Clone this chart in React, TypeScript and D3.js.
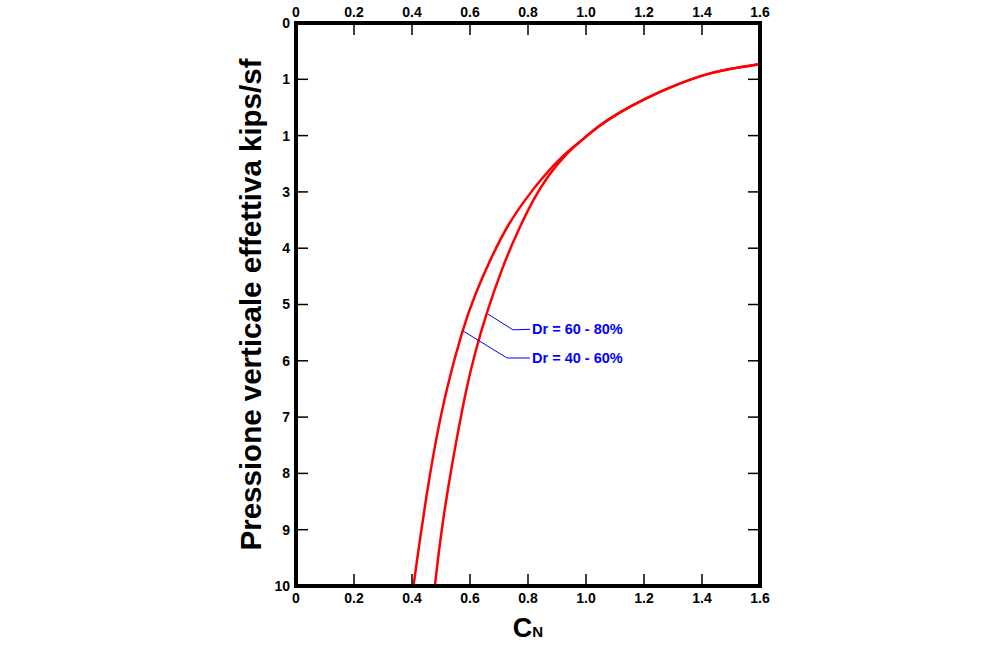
import { useEffect, useRef } from "react";
import * as d3 from "d3";

// C_N vs effective vertical pressure (kips/sf)
const pressureLow = [10, 9.18, 8.29, 7.41, 6.47, 5.45, 4.87, 4.16, 3.55, 3.14, 2.74, 2.34];
const cnLow = [0.405, 0.427, 0.453, 0.482, 0.52, 0.574, 0.613, 0.673, 0.734, 0.79, 0.85, 0.922];

const pressureHigh = [10, 9.18, 8.29, 7.41, 6.47, 5.84, 5.15, 4.33, 3.73, 3.14, 2.7, 2.31];
const cnHigh = [0.479, 0.497, 0.523, 0.553, 0.588, 0.618, 0.657, 0.712, 0.762, 0.817, 0.87, 0.934];

// shared upper branch
const pressureCommon = [2.11, 1.81, 1.58, 1.36, 1.14, 0.92, 0.82, 0.73];
const cnCommon = [0.979, 1.048, 1.117, 1.197, 1.29, 1.403, 1.486, 1.6];

const xTicks = [0, 0.2, 0.4, 0.6, 0.8, 1.0, 1.2, 1.4, 1.6];
const xTickLabels = ["0", "0.2", "0.4", "0.6", "0.8", "1.0", "1.2", "1.4", "1.6"];
const yTicks = [0, 1, 2, 3, 4, 5, 6, 7, 8, 9, 10];
const yTickLabels = ["0", "1", "1", "3", "4", "5", "6", "7", "8", "9", "10"];

const labels = ["Dr = 60 - 80%", "Dr = 40 - 60%"];
// leader: start on curve, elbow, end  (cn, pressure)
const leaderCn = [
  [0.662, 0.748, 0.807],
  [0.576, 0.728, 0.807],
];
const leaderP = [
  [5.17, 5.45, 5.44],
  [5.47, 5.95, 5.95],
];

const W = 1005;
const H = 646;
const FONT = "'Liberation Sans', Arial, sans-serif";

const App = () => {
  const svgRef = useRef<SVGSVGElement>(null);

  useEffect(() => {
    document.body.style.margin = "0";
    if (!svgRef.current) return;
    const svg = d3.select(svgRef.current);
    svg.selectAll("*").remove();

    const x = d3.scaleLinear().domain([0, 1.6]).range([296, 760]);
    const y = d3.scaleLinear().domain([0, 10]).range([23, 586]);
    const [x0, x1] = x.range();
    const [y0, y1] = y.range();
    const tickLen = 12;

    const zip = (cs: number[], ps: number[]) => cs.map((c, i) => [c, ps[i]] as [number, number]);
    const low = zip(cnLow, pressureLow).concat(zip(cnCommon, pressureCommon));
    const high = zip(cnHigh, pressureHigh).concat(zip(cnCommon, pressureCommon));

    const line = d3
      .line<[number, number]>()
      .x((d) => x(d[0]))
      .y((d) => y(d[1]))
      .curve(d3.curveBasis);

    // curves
    svg
      .selectAll("path.curve")
      .data([low, high])
      .join("path")
      .attr("class", "curve")
      .attr("d", (d) => line(d))
      .attr("fill", "none")
      .attr("stroke", "#ff0000")
      .attr("stroke-width", 2.5);

    // ticks
    const inner = xTicks.slice(1, -1);
    svg
      .selectAll("line.xt")
      .data(inner.flatMap((t) => [{ t, top: true }, { t, top: false }]))
      .join("line")
      .attr("x1", (d) => x(d.t))
      .attr("x2", (d) => x(d.t))
      .attr("y1", (d) => (d.top ? y0 : y1))
      .attr("y2", (d) => (d.top ? y0 + tickLen : y1 - tickLen))
      .attr("stroke", "#000")
      .attr("stroke-width", 1.5);

    const innerY = yTicks.slice(1, -1);
    svg
      .selectAll("line.yt")
      .data(innerY.flatMap((t) => [{ t, left: true }, { t, left: false }]))
      .join("line")
      .attr("y1", (d) => y(d.t))
      .attr("y2", (d) => y(d.t))
      .attr("x1", (d) => (d.left ? x0 : x1))
      .attr("x2", (d) => (d.left ? x0 + tickLen : x1 - tickLen))
      .attr("stroke", "#000")
      .attr("stroke-width", 1.5);

    // frame
    svg
      .append("rect")
      .attr("x", x0)
      .attr("y", y0)
      .attr("width", x1 - x0)
      .attr("height", y1 - y0)
      .attr("fill", "none")
      .attr("stroke", "#000")
      .attr("stroke-width", 4);

    // tick labels
    const tickText = (sel: d3.Selection<any, any, any, any>) =>
      sel.attr("font-family", FONT).attr("font-size", 14).attr("font-weight", "bold").attr("fill", "#000");

    svg
      .selectAll("text.xtop")
      .data(xTicks)
      .join("text")
      .attr("x", (d) => x(d))
      .attr("y", y0 - 6)
      .attr("text-anchor", "middle")
      .text((_, i) => xTickLabels[i])
      .call(tickText);

    svg
      .selectAll("text.xbot")
      .data(xTicks)
      .join("text")
      .attr("x", (d) => x(d))
      .attr("y", y1 + 17)
      .attr("text-anchor", "middle")
      .text((_, i) => xTickLabels[i])
      .call(tickText);

    svg
      .selectAll("text.yl")
      .data(yTicks)
      .join("text")
      .attr("x", x0 - 6)
      .attr("y", (d) => y(d))
      .attr("dy", "0.35em")
      .attr("text-anchor", "end")
      .text((_, i) => yTickLabels[i])
      .call(tickText);

    // axis titles
    svg
      .append("text")
      .attr("transform", `translate(261,${(y0 + y1) / 2}) rotate(-90)`)
      .attr("text-anchor", "middle")
      .attr("font-family", FONT)
      .attr("font-size", 29.5)
      .attr("font-weight", "bold")
      .text("Pressione verticale effettiva kips/sf");

    const xt = svg
      .append("text")
      .attr("x", (x0 + x1) / 2)
      .attr("y", 637)
      .attr("text-anchor", "middle")
      .attr("font-family", FONT)
      .attr("font-weight", "bold");
    xt.append("tspan").attr("font-size", 27).text("C");
    xt.append("tspan").attr("font-size", 15).text("N");

    // annotations
    labels.forEach((lab, i) => {
      const pts = leaderCn[i].map((c, j) => [x(c), y(leaderP[i][j])] as [number, number]);
      svg
        .append("path")
        .attr("d", d3.line()(pts))
        .attr("fill", "none")
        .attr("stroke", "#0000ff")
        .attr("stroke-width", 1);
      const end = pts[pts.length - 1];
      svg
        .append("text")
        .attr("x", end[0] + 2)
        .attr("y", end[1])
        .attr("dy", "0.36em")
        .attr("font-family", FONT)
        .attr("font-size", 14.5)
        .attr("font-weight", "bold")
        .attr("fill", "#0000ff")
        .text(lab);
    });
  }, []);

  return <svg ref={svgRef} width={W} height={H} style={{ display: "block", background: "#fff" }} />;
};

export default App;
